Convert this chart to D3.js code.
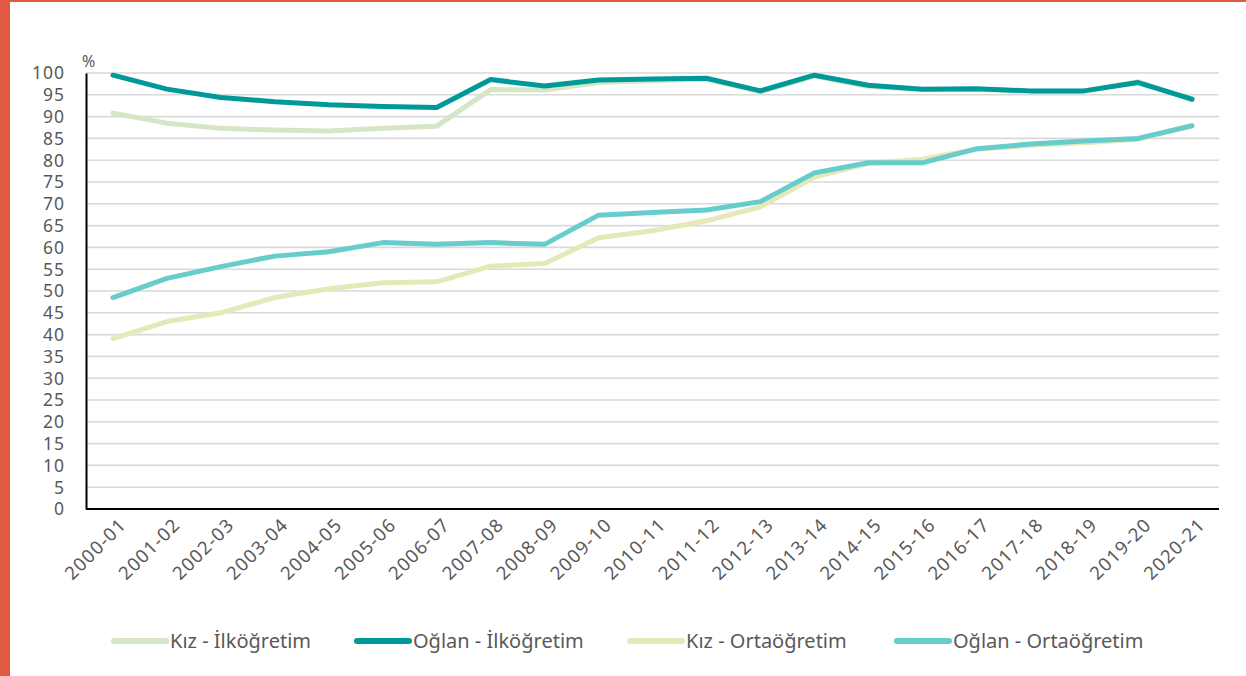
<!DOCTYPE html>
<html>
<head>
<meta charset="utf-8">
<script src="https://cdn.jsdelivr.net/npm/d3@7"></script>
<style>
  html, body { margin: 0; padding: 0; background: #ffffff; }
  svg { display: block; }
</style>
</head>
<body>
<svg id="chart" width="1246" height="676"></svg>
<script>
const categories = ["2000-01","2001-02","2002-03","2003-04","2004-05","2005-06","2006-07","2007-08","2008-09","2009-10","2010-11","2011-12","2012-13","2013-14","2014-15","2015-16","2016-17","2017-18","2018-19","2019-20","2020-21"];
const kizIlkogretim   = [90.8, 88.5, 87.3, 86.9, 86.7, 87.3, 87.8, 96.2, 96.1, 97.8, 98.2, 98.6, 95.7, 99.3, 96.9, 96.2, 96.3, 95.8, 95.9, 98.0, 93.8];
const oglanIlkogretim = [99.5, 96.3, 94.4, 93.4, 92.7, 92.3, 92.1, 98.5, 97.0, 98.4, 98.6, 98.8, 95.9, 99.5, 97.2, 96.3, 96.4, 95.9, 95.9, 97.8, 94.0];
const kizOrtaogretim  = [39.1, 43.0, 45.0, 48.5, 50.5, 51.9, 52.1, 55.7, 56.3, 62.2, 63.8, 66.1, 69.3, 76.1, 79.3, 80.2, 82.5, 83.4, 84.0, 84.8, 88.0];
const oglanOrtaogretim= [48.5, 52.9, 55.6, 58.0, 59.0, 61.1, 60.7, 61.1, 60.7, 67.4, 68.0, 68.6, 70.5, 77.1, 79.4, 79.4, 82.6, 83.7, 84.4, 85.0, 87.9];
const yTicks = [0,5,10,15,20,25,30,35,40,45,50,55,60,65,70,75,80,85,90,95,100];
const seriesNames = ["Kız - İlköğretim", "Oğlan - İlköğretim", "Kız - Ortaöğretim", "Oğlan - Ortaöğretim"];
const seriesColors = ["#d4e6c6", "#009999", "#e6e8b8", "#66cccc"];
const unitLabel = "%";

const series = [kizIlkogretim, oglanIlkogretim, kizOrtaogretim, oglanOrtaogretim];

const svg = d3.select("#chart");
const font = "'Noto Sans', 'DejaVu Sans', sans-serif";
const textColor = "#595959";

// Border decoration
svg.append("rect").attr("x", 0).attr("y", 0).attr("width", 1246).attr("height", 676).attr("fill", "#ffffff");
svg.append("rect").attr("x", 0).attr("y", 0).attr("width", 10).attr("height", 676).attr("fill", "#e05a42");
svg.append("rect").attr("x", 0).attr("y", 0).attr("width", 1246).attr("height", 2).attr("fill", "#e05a42");

const plotLeft = 86, plotRight = 1219, plotTop = 73, plotBottom = 509;

const x = d3.scalePoint().domain(categories).range([plotLeft, plotRight]).padding(0.5);
const y = d3.scaleLinear().domain([0, 100]).range([plotBottom, plotTop]);

// Gridlines
svg.append("g")
  .selectAll("line")
  .data(yTicks.filter(d => d > 0))
  .join("line")
  .attr("x1", plotLeft).attr("x2", plotRight)
  .attr("y1", d => y(d)).attr("y2", d => y(d))
  .attr("stroke", "#d9d9d9").attr("stroke-width", 1.6);

// Y axis
const yAxis = d3.axisLeft(y).tickValues(yTicks).tickSize(0).tickPadding(21);
const gy = svg.append("g").attr("transform", `translate(${plotLeft},0)`).call(yAxis);
gy.select(".domain").attr("stroke", "#000").attr("stroke-width", 2);
gy.selectAll("text").attr("font-family", font).attr("font-size", 17.5)
  .attr("letter-spacing", 1).attr("fill", textColor).attr("dy", "0.34em");

// X axis
const xAxis = d3.axisBottom(x).tickSize(0).tickFormat(d => d);
const gx = svg.append("g").attr("transform", `translate(0,${plotBottom})`).call(xAxis);
gx.select(".domain").attr("stroke", "#000").attr("stroke-width", 2.2)
  .attr("d", `M${plotLeft},0H${plotRight}`);
gx.selectAll("text")
  .attr("font-family", font).attr("font-size", 18.5).attr("letter-spacing", 1.2)
  .attr("fill", textColor)
  .attr("text-anchor", "end")
  .attr("dy", 0).attr("y", 0)
  .attr("transform", "translate(14,17) rotate(-45)");

// Unit label
svg.append("text").attr("x", 82).attr("y", 67).text(unitLabel)
  .attr("font-family", font).attr("font-size", 16).attr("fill", textColor);

// Lines
const line = d3.line().x((d, i) => x(categories[i])).y(d => y(d));
series.forEach((s, i) => {
  svg.append("path")
    .datum(s)
    .attr("d", line)
    .attr("fill", "none")
    .attr("stroke", seriesColors[i])
    .attr("stroke-width", 5)
    .attr("stroke-linejoin", "round")
    .attr("stroke-linecap", "round");
});

// Legend
const legendX = [112, 355, 628, 895];
const legendY = 641;
const lg = svg.append("g");
seriesNames.forEach((name, i) => {
  lg.append("line")
    .attr("x1", legendX[i] + 2).attr("x2", legendX[i] + 54)
    .attr("y1", legendY).attr("y2", legendY)
    .attr("stroke", seriesColors[i]).attr("stroke-width", 6)
    .attr("stroke-linecap", "round");
  lg.append("text")
    .attr("x", legendX[i] + 58).attr("y", legendY)
    .attr("dy", "0.35em")
    .attr("font-family", font).attr("font-size", 20).attr("fill", textColor)
    .text(name);
});
</script>
</body>
</html>
